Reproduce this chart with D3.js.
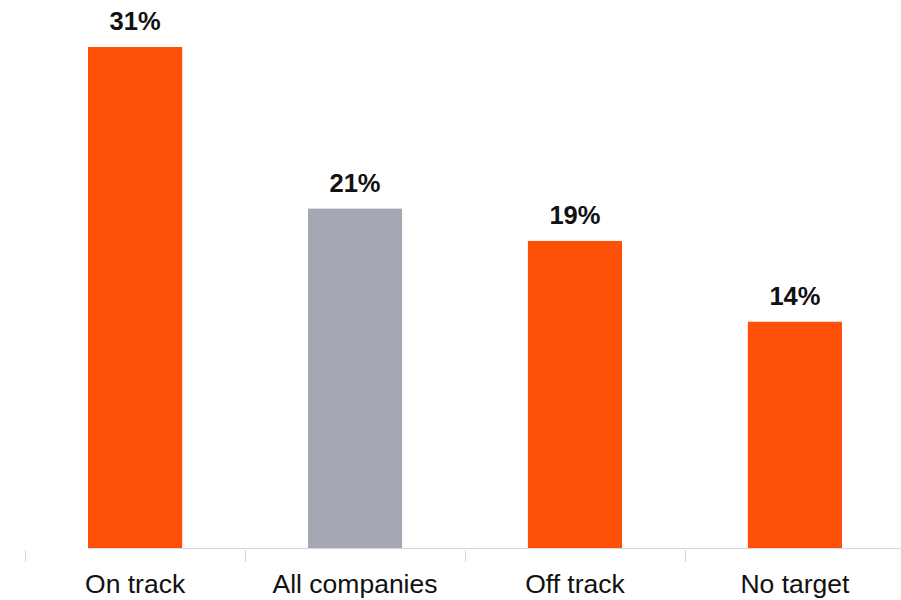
<!DOCTYPE html>
<html>
<head>
<meta charset="utf-8">
<script src="https://cdn.jsdelivr.net/npm/d3@7"></script>
<style>
  html, body { margin: 0; padding: 0; background: #fff; }
  svg { display: block; font-family: "Liberation Sans", Arial, Helvetica, sans-serif; }
</style>
</head>
<body>
<svg id="chart" width="901" height="600"></svg>
<script>
// Share of companies by target status
const categories = ["On track", "All companies", "Off track", "No target"];
const values = [31, 21, 19, 14];
const valueLabels = ["31%", "21%", "19%", "14%"];
const highlight = [true, false, true, true];

const svg = d3.select("#chart");
const baseline = 548;

const x = d3.scaleBand()
  .domain(categories)
  .range([26, 904])
  .paddingInner(0.572)
  .paddingOuter(0.282);

const y = d3.scaleLinear()
  .domain([0, 31])
  .range([baseline, 47]);

const colorFor = (i) => highlight[i] ? "#FF5008" : "#A3A8B3";

// bars
svg.append("g").selectAll("rect")
  .data(values)
  .join("rect")
  .attr("x", (d, i) => x(categories[i]))
  .attr("y", d => y(d))
  .attr("width", x.bandwidth())
  .attr("height", d => baseline - y(d))
  .attr("fill", (d, i) => colorFor(i));

// value labels
svg.append("g").selectAll("text")
  .data(values)
  .join("text")
  .attr("x", (d, i) => x(categories[i]) + x.bandwidth() / 2)
  .attr("y", d => y(d) - 17)
  .attr("text-anchor", "middle")
  .attr("font-size", 25.5)
  .attr("font-weight", "bold")
  .attr("fill", "#111")
  .text((d, i) => valueLabels[i]);

// axis: baseline rule and separators between categories
const step = x.step();
const gap = step - x.bandwidth();
const axis = svg.append("g");
axis.append("line")
  .attr("x1", x(categories[0]))
  .attr("x2", 901)
  .attr("y1", baseline + 0.5)
  .attr("y2", baseline + 0.5)
  .attr("stroke", "#D3D6DC")
  .attr("stroke-width", 1);
axis.selectAll("line.sep")
  .data(categories)
  .join("line")
  .attr("class", "sep")
  .attr("x1", d => Math.round(x(d) - gap / 2) + 0.5)
  .attr("x2", d => Math.round(x(d) - gap / 2) + 0.5)
  .attr("y1", 550)
  .attr("y2", 562)
  .attr("stroke", "#D3D6DC")
  .attr("stroke-width", 1);

axis.selectAll("text")
  .data(categories)
  .join("text")
  .attr("x", d => x(d) + x.bandwidth() / 2)
  .attr("y", 593)
  .attr("text-anchor", "middle")
  .attr("font-size", 26.5)
  .attr("fill", "#111")
  .text(d => d);
</script>
</body>
</html>
